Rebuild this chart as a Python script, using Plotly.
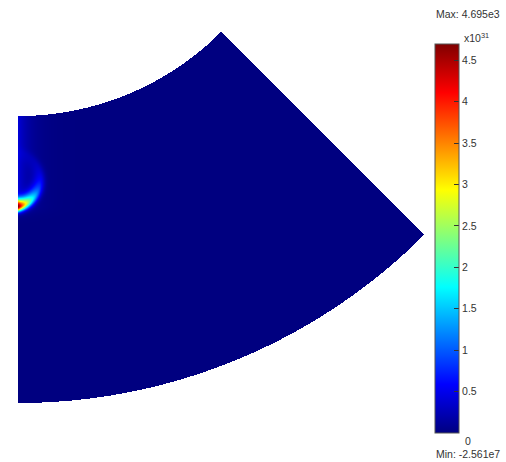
import numpy as np
import plotly.graph_objects as go

# ---------------- data / geometry (data units: inner radius = 1) ----------------
R_INNER = 1.0
R_OUTER = 2.0
THETA_START_DEG = -90.0
THETA_END_DEG = -45.0

# field description (values in units of 1e31)
PEAK_VALUE = 4.695
MIN_VALUE = 0.0
RING_CENTER_X = -0.021
RING_CENTER_Y = -1.2195
RING_RADIUS = 0.0976
RING_WIDTH_OUT = 0.0165
RING_WIDTH_IN = 0.026
RING_ANGLE_START_DEG = 12.4
RING_ANGLE_DECAY_DEG = 36.0
EDGE_GLOW = 0.42
EDGE_GLOW_LEN = 0.038
EDGE_GLOW_TOP = -1.0
EDGE_GLOW_BOTTOM = -1.31
EDGE_GLOW_FALL = 0.03

CBAR_TICKS = [0.5, 1, 1.5, 2, 2.5, 3, 3.5, 4, 4.5]
CBAR_TICKTEXT = ["0.5", "1", "1.5", "2", "2.5", "3", "3.5", "4", "4.5"]
MAX_LABEL = "Max: 4.695e3"
MIN_LABEL = "Min: -2.561e7"
EXP_LABEL = "x10<sup>31</sup>"

# ---------------- layout constants (pixels) ----------------
W, H = 506, 462
ML, MR, MT, MB = 18, 82, 32, 59
PW, PH = W - ML - MR, H - MT - MB

x_min = 0.0
x_max = R_OUTER * np.cos(np.radians(THETA_END_DEG))
y_min = -R_OUTER
y_max = -R_INNER * np.cos(np.radians(45.0))

nx, ny = PW, PH
dx = (x_max - x_min) / nx
dy = (y_max - y_min) / ny
xs = x_min + (np.arange(nx) + 0.5) * dx
ys = y_min + (np.arange(ny) + 0.5) * dy
X, Y = np.meshgrid(xs, ys)

r = np.hypot(X, Y)
th = np.degrees(np.arctan2(Y, X))
inside = (r >= R_INNER) & (r <= R_OUTER) & (th >= THETA_START_DEG) & (th <= THETA_END_DEG)

# ring-shaped hot spot
ddx = X - RING_CENTER_X
ddy = Y - RING_CENTER_Y
d = np.hypot(ddx, ddy)
phi = np.degrees(np.arctan2(ddx, -ddy))
radial = np.where(d > RING_RADIUS,
                  np.exp(-((d - RING_RADIUS) / RING_WIDTH_OUT) ** 2),
                  np.exp(-((RING_RADIUS - d) / RING_WIDTH_IN) ** 2))
angular = np.exp(-(phi - RING_ANGLE_START_DEG) / RING_ANGLE_DECAY_DEG)
ring = radial * angular

vert = np.where(Y < EDGE_GLOW_BOTTOM,
                np.exp(-((Y - EDGE_GLOW_BOTTOM) / EDGE_GLOW_FALL) ** 2), 1.0)
glow = EDGE_GLOW * np.exp(-X / EDGE_GLOW_LEN) * vert

F = ring
F = F * (PEAK_VALUE - EDGE_GLOW) / F[inside].max() + glow
F = np.clip(F, MIN_VALUE, PEAK_VALUE)
Z = np.where(inside, F, np.nan).astype(np.float32)

jet = [[0.0, "rgb(0,0,128)"], [0.125, "rgb(0,0,255)"], [0.375, "rgb(0,255,255)"],
       [0.625, "rgb(255,255,0)"], [0.875, "rgb(255,0,0)"], [1.0, "rgb(128,0,0)"]]

FONT = dict(family="Liberation Sans, Arial, sans-serif", size=10.5, color="#333333")

# colorbar placement (pixels)
CB_LEFT, CB_RIGHT, CB_TOP, CB_BOTTOM = 435, 459, 44, 433


def px_x(px):
    return (px - ML) / PW


def px_y(py):
    return (H - MB - py) / PH


fig = go.Figure()
fig.add_trace(go.Heatmap(
    x=xs, y=ys, z=Z, colorscale=jet, zmin=MIN_VALUE, zmax=PEAK_VALUE,
    zsmooth=False, hoverinfo="skip",
    colorbar=dict(
        x=px_x(CB_LEFT), xanchor="left",
        y=px_y(CB_BOTTOM), yanchor="bottom",
        len=(CB_BOTTOM - CB_TOP) / PH, lenmode="fraction",
        thickness=CB_RIGHT - CB_LEFT, thicknessmode="pixels",
        xpad=0, ypad=0,
        outlinewidth=1, outlinecolor="#555555",
        tickvals=CBAR_TICKS, ticktext=CBAR_TICKTEXT,
        ticks="inside", ticklen=5, tickwidth=1, tickcolor="#333333",
        tickfont=FONT,
    ),
))

# left-side tick marks on the colorbar
for v in CBAR_TICKS:
    py = CB_BOTTOM - (v - MIN_VALUE) / (PEAK_VALUE - MIN_VALUE) * (CB_BOTTOM - CB_TOP)
    fig.add_shape(type="line", xref="paper", yref="paper",
                  x0=px_x(CB_LEFT + 0.5), x1=px_x(CB_LEFT + 5.5),
                  y0=px_y(py), y1=px_y(py),
                  line=dict(color="#333333", width=1), layer="above")

ann = [
    (MAX_LABEL, 434, 14),
    (EXP_LABEL, 462, 37),
    ("0", 463, 441),
    (MIN_LABEL, 434, 454),
]
for text, px, py in ann:
    fig.add_annotation(text=text, xref="paper", yref="paper",
                       x=px_x(px), y=px_y(py), xanchor="left", yanchor="middle",
                       showarrow=False, font=FONT)

fig.update_layout(
    width=W, height=H,
    margin=dict(l=ML, r=MR, t=MT, b=MB, pad=0),
    paper_bgcolor="white", plot_bgcolor="white",
    xaxis=dict(range=[x_min, x_max], visible=False, showgrid=False, zeroline=False),
    yaxis=dict(range=[y_min, y_max], visible=False, showgrid=False, zeroline=False),
    showlegend=False,
)

fig.write_html("out.html")
